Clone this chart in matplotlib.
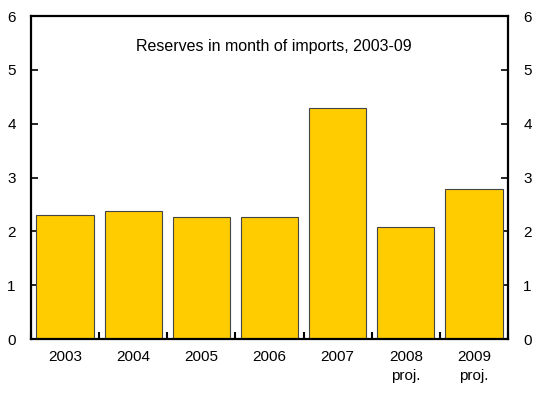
import matplotlib
matplotlib.use("Agg")
import matplotlib.pyplot as plt
import numpy as np

plt.rcParams['font.family'] = ['Liberation Sans', 'DejaVu Sans']

years = ["2003", "2004", "2005", "2006", "2007", "2008\nproj.", "2009\nproj."]
reserves = [2.30, 2.38, 2.26, 2.26, 4.30, 2.08, 2.78]
y_ticks = [0, 1, 2, 3, 4, 5, 6]

fig = plt.figure(figsize=(5.41, 3.93), dpi=100)
ax = fig.add_axes([0.0573, 0.1374, 0.8817, 0.8216])

x = np.arange(len(years))
ax.bar(x, reserves, width=0.84, color="#FFCC00", edgecolor="#444444", linewidth=0.8, zorder=2)

ax.set_xlim(-0.5, len(years) - 0.5)
ax.set_ylim(0, 6)
ax.set_yticks(y_ticks)
ax.set_xticks(x)
ax.set_xticklabels(years, fontsize=11, linespacing=1.45)
ax.set_xticks(np.arange(len(years) + 1) - 0.5, minor=True)
ax.tick_params(axis="x", which="major", length=0, pad=8)
ax.tick_params(axis="x", which="minor", direction="in", length=5, width=1.5)
ax.tick_params(axis="y", which="major", direction="in", length=5, width=1.2,
               left=True, right=True, labelleft=True, labelright=True,
               labelsize=11, pad=11)

for s in ax.spines.values():
    s.set_linewidth(1.6)
    s.set_color("black")

ax.text(0.508, 0.905, "Reserves in month of imports, 2003-09", transform=ax.transAxes,
        ha="center", va="center", fontsize=11.5)

fig.savefig("out.png", dpi=100)
